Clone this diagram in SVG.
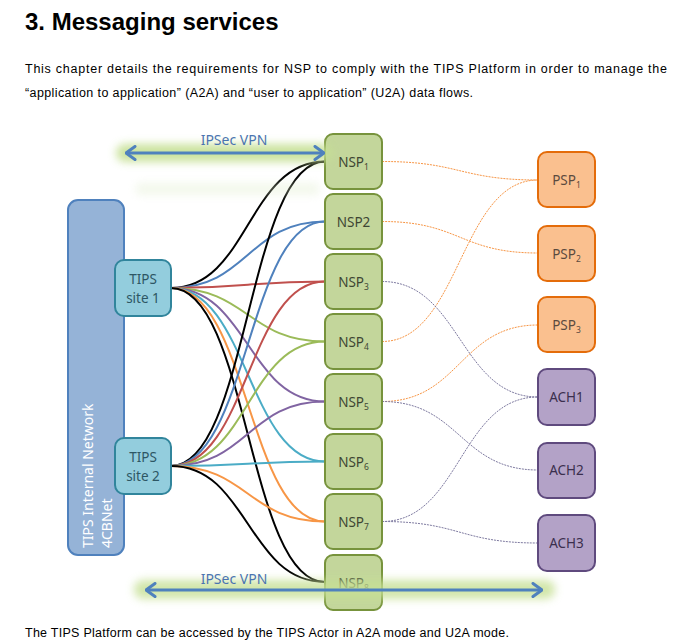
<svg xmlns="http://www.w3.org/2000/svg" width="683" height="644" viewBox="0 0 683 644">
<style>
.h{font-family:"Liberation Sans",Arial,sans-serif;font-weight:bold;font-size:24px;fill:#000}
.b{font-family:"Liberation Sans",Arial,sans-serif;font-size:12.5px;fill:#000}
.lbl{font-family:"Noto Sans","Open Sans",sans-serif;font-size:13.5px;text-anchor:middle}
.nsp rect{fill:#C3D69B;stroke:#77933C;stroke-width:2}
.nsp text{fill:#3E4633}
.psp rect{fill:#FAC08F;stroke:#E46C0A;stroke-width:2}
.psp text{fill:#5A4A3E}
.ach rect{fill:#B3A2C7;stroke:#5F4A7E;stroke-width:2}
.ach text{fill:#3B2F4E}
.site rect{fill:#93CDDD;stroke:#31859C;stroke-width:2}
.site text{fill:#2D5664}
.c{fill:none;stroke-width:2}
.d{fill:none;stroke-width:1;stroke-dasharray:2 1}
.sub{font-size:8.5px}
.vpn{font-family:"Noto Sans","Open Sans",sans-serif;font-size:14px;fill:#4A74B0;text-anchor:middle}
.net{font-family:"Noto Sans","Open Sans",sans-serif;font-size:14px;fill:#FFFFFF}
</style>
<defs>
<filter id="blur" x="-20%" y="-200%" width="140%" height="500%"><feGaussianBlur stdDeviation="4"/></filter>
<marker id="ah" viewBox="0 0 12 16" refX="11" refY="8" markerWidth="12" markerHeight="16" markerUnits="userSpaceOnUse" orient="auto-start-reverse">
<path d="M2,1.5 L11,8 L2,14.5" fill="none" stroke="#4F81BD" stroke-width="3" stroke-linecap="round" stroke-linejoin="round"/>
</marker>
</defs>

<text class="h" x="25" y="30">3. Messaging services</text>
<text class="b" x="25" y="73" textLength="642" lengthAdjust="spacing">This chapter details the requirements for NSP to comply with the TIPS Platform in order to manage the</text>
<text class="b" x="25" y="97" textLength="448" lengthAdjust="spacing">“application to application” (A2A) and “user to application” (U2A) data flows.</text>
<text class="b" x="25" y="637" textLength="484" lengthAdjust="spacing">The TIPS Platform can be accessed by the TIPS Actor in A2A mode and U2A mode.</text>

<g id="network">
<rect x="68" y="200" width="56" height="355" rx="10" fill="#95B3D7" stroke="#4F81BD" stroke-width="2"/>
<text class="net" transform="translate(93,548) rotate(-90)">TIPS Internal Network</text>
<text class="net" transform="translate(112,548) rotate(-90)">4CBNet</text>
</g>

<g id="connectors">
<g id="site1-links">
<path class="c" stroke="#000000" d="M171,288 C248,288 248,161.5 325,161.5"/>
<path class="c" stroke="#4F81BD" d="M171,288 C248,288 248,221.5 325,221.5"/>
<path class="c" stroke="#C0504D" d="M171,288 C248,288 248,281.5 325,281.5"/>
<path class="c" stroke="#9BBB59" d="M171,288 C248,288 248,341.5 325,341.5"/>
<path class="c" stroke="#8064A2" d="M171,288 C248,288 248,401.5 325,401.5"/>
<path class="c" stroke="#4BACC6" d="M171,288 C248,288 248,461.5 325,461.5"/>
<path class="c" stroke="#F79646" d="M171,288 C248,288 248,521.5 325,521.5"/>
<path class="c" stroke="#000000" d="M171,288 C248,288 248,582 325,582"/>
</g>
<g id="site2-links">
<path class="c" stroke="#000000" d="M171,466 C248,466 248,161.5 325,161.5"/>
<path class="c" stroke="#4F81BD" d="M171,466 C248,466 248,221.5 325,221.5"/>
<path class="c" stroke="#C0504D" d="M171,466 C248,466 248,281.5 325,281.5"/>
<path class="c" stroke="#9BBB59" d="M171,466 C248,466 248,341.5 325,341.5"/>
<path class="c" stroke="#8064A2" d="M171,466 C248,466 248,401.5 325,401.5"/>
<path class="c" stroke="#4BACC6" d="M171,466 C248,466 248,461.5 325,461.5"/>
<path class="c" stroke="#F79646" d="M171,466 C248,466 248,521.5 325,521.5"/>
<path class="c" stroke="#000000" d="M171,466 C248,466 248,582 325,582"/>
</g>
<g id="psp-links" stroke="#F79646">
<path class="d" d="M382,161.5 C460,161.5 460,180 538,180"/>
<path class="d" d="M382,221.5 C460,221.5 460,253 538,253"/>
<path class="d" d="M382,341.5 C460,341.5 460,180 538,180"/>
<path class="d" d="M382,401.5 C460,401.5 460,325 538,325"/>
</g>
<g id="ach-links" stroke="#7E7AA0">
<path class="d" d="M382,281.5 C460,281.5 460,397 538,397"/>
<path class="d" d="M382,401.5 C460,401.5 460,470 538,470"/>
<path class="d" d="M382,521.5 C460,521.5 460,397 538,397"/>
<path class="d" d="M382,521.5 C460,521.5 460,543 538,543"/>
</g>
</g>

<g id="site1" class="site">
<rect x="115" y="260" width="56" height="56" rx="9"/>
<text class="lbl" x="143" y="284">TIPS</text>
<text class="lbl" x="143" y="303">site 1</text>
</g>
<g id="site2" class="site">
<rect x="115" y="438" width="56" height="56" rx="9"/>
<text class="lbl" x="143" y="462">TIPS</text>
<text class="lbl" x="143" y="481">site 2</text>
</g>

<g id="nsp1" class="nsp"><rect x="325" y="134" width="57" height="55" rx="8"/><text class="lbl" x="353.5" y="166.5">NSP<tspan class="sub" dy="3">1</tspan></text></g>
<g id="nsp2" class="nsp"><rect x="325" y="194" width="57" height="55" rx="8"/><text class="lbl" x="353.5" y="226.5">NSP2</text></g>
<g id="nsp3" class="nsp"><rect x="325" y="254" width="57" height="55" rx="8"/><text class="lbl" x="353.5" y="286.5">NSP<tspan class="sub" dy="3">3</tspan></text></g>
<g id="nsp4" class="nsp"><rect x="325" y="314" width="57" height="55" rx="8"/><text class="lbl" x="353.5" y="346.5">NSP<tspan class="sub" dy="3">4</tspan></text></g>
<g id="nsp5" class="nsp"><rect x="325" y="374" width="57" height="55" rx="8"/><text class="lbl" x="353.5" y="406.5">NSP<tspan class="sub" dy="3">5</tspan></text></g>
<g id="nsp6" class="nsp"><rect x="325" y="434" width="57" height="55" rx="8"/><text class="lbl" x="353.5" y="466.5">NSP<tspan class="sub" dy="3">6</tspan></text></g>
<g id="nsp7" class="nsp"><rect x="325" y="494" width="57" height="55" rx="8"/><text class="lbl" x="353.5" y="526.5">NSP<tspan class="sub" dy="3">7</tspan></text></g>
<g id="nsp8" class="nsp"><rect x="325" y="555" width="57" height="55" rx="8"/><text class="lbl" x="353.5" y="587.5">NSP<tspan class="sub" dy="3">8</tspan></text></g>

<g id="psp1" class="psp"><rect x="538" y="152" width="57" height="55" rx="9"/><text class="lbl" x="566.5" y="184.5">PSP<tspan class="sub" dy="3">1</tspan></text></g>
<g id="psp2" class="psp"><rect x="538" y="226" width="57" height="55" rx="9"/><text class="lbl" x="566.5" y="258.5">PSP<tspan class="sub" dy="3">2</tspan></text></g>
<g id="psp3" class="psp"><rect x="538" y="297" width="57" height="55" rx="9"/><text class="lbl" x="566.5" y="329.5">PSP<tspan class="sub" dy="3">3</tspan></text></g>

<g id="ach1" class="ach"><rect x="538" y="369" width="57" height="56" rx="9"/><text class="lbl" x="566.5" y="402">ACH1</text></g>
<g id="ach2" class="ach"><rect x="538" y="443" width="57" height="55" rx="9"/><text class="lbl" x="566.5" y="475">ACH2</text></g>
<g id="ach3" class="ach"><rect x="538" y="515" width="57" height="56" rx="9"/><text class="lbl" x="566.5" y="548">ACH3</text></g>

<g id="vpn-top">
<rect x="116" y="144" width="216" height="18" rx="9" fill="#C6E094" opacity="0.9" filter="url(#blur)"/>
<rect x="135" y="183" width="185" height="12" rx="6" fill="#DDEBC8" opacity="0.35" filter="url(#blur)"/>
<line x1="126" y1="153" x2="324" y2="153" stroke="#4F81BD" stroke-width="3" marker-start="url(#ah)" marker-end="url(#ah)"/>
<text class="vpn" x="234" y="145">IPSec VPN</text>
</g>
<g id="vpn-bottom">
<rect x="134" y="580" width="421" height="19" rx="9" fill="#C6E094" opacity="0.8" filter="url(#blur)"/>
<line x1="146" y1="590" x2="542" y2="590" stroke="#4F81BD" stroke-width="3" marker-start="url(#ah)" marker-end="url(#ah)"/>
<text class="vpn" x="234" y="584">IPSec VPN</text>
</g>
</svg>
